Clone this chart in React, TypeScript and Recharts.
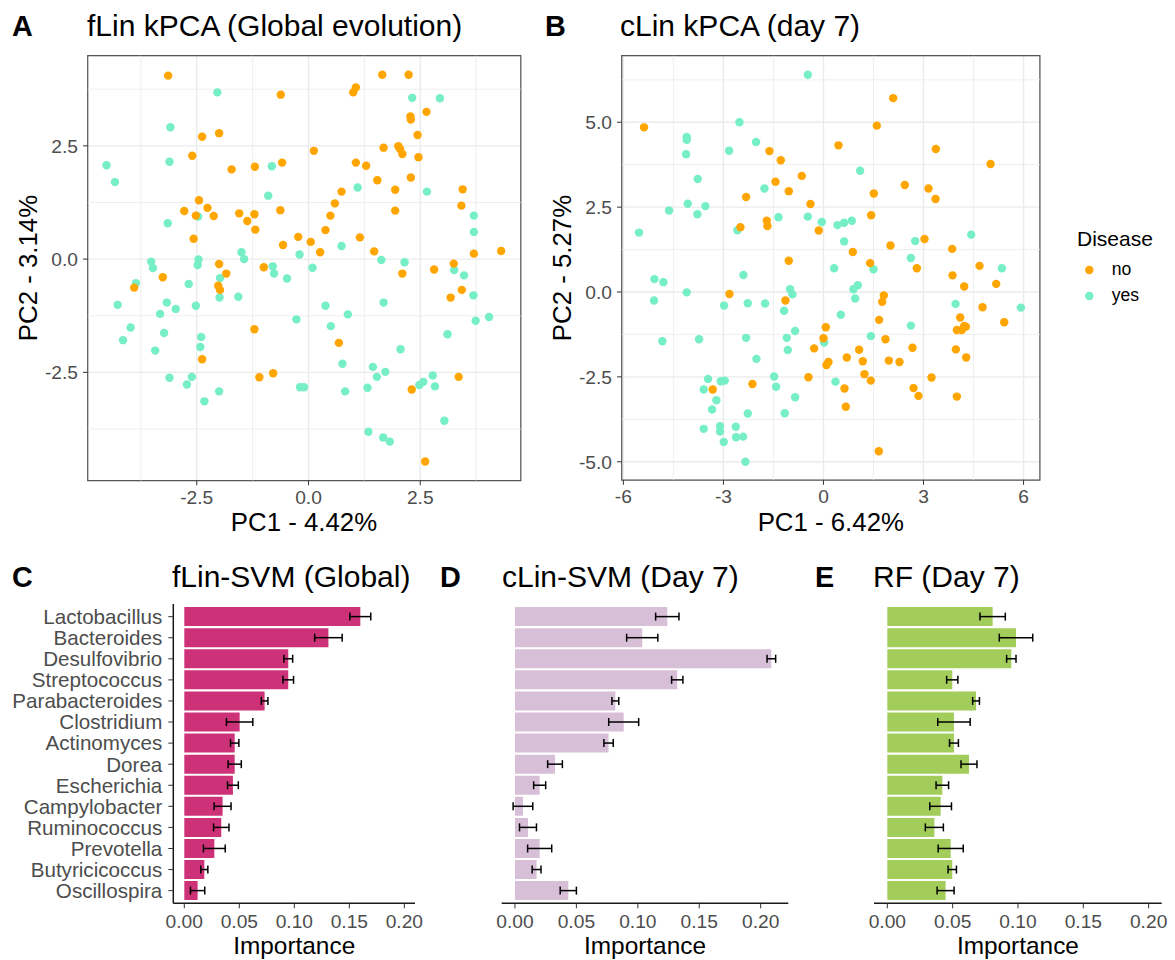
import React from "react";
import {
  ScatterChart,
  Scatter,
  XAxis,
  YAxis,
  CartesianGrid,
  ReferenceLine,
  ReferenceArea,
  BarChart,
  Bar,
  ErrorBar,
} from "recharts";

const FONT = '"Liberation Sans", Arial, Helvetica, sans-serif';
const NO_COLOR = "#FFA500";
const YES_COLOR = "#76EEC6";
const TICK_TEXT = "#4d4d4d";

type Pt = [number, number];

// fLin kPCA (global evolution) scores: [PC1, PC2]
const flinNo: Pt[] = [
  [-3.14, 4.05], [-0.62, 3.63], [-2.38, 2.7], [-2.0, 2.78], [-2.6, 2.28], [-1.72, 1.98],
  [-1.2, 2.04], [-0.59, 2.13], [-2.45, 1.3], [-2.26, 1.13], [-2.78, 1.06], [-2.52, 0.96],
  [-2.12, 0.95], [-1.55, 1.01], [-1.21, 0.99], [-1.37, 0.84], [-1.19, 0.65], [-0.63, 1.08],
  [-2.57, 0.45], [-0.23, 0.49], [-0.57, 0.31], [-2.0, -0.11], [-1.0, -0.18], [-3.26, -0.4],
  [-3.9, -0.63], [-1.84, -0.32], [-2.02, -0.59], [-1.98, -0.68], [-2.38, -2.21], [-1.21, -1.55],
  [-1.1, -2.61], [-0.79, -2.52], [2.1, -0.32], [2.81, -0.23], [3.25, -0.1], [3.43, -0.68],
  [3.18, -0.85], [0.68, -1.85], [2.31, -2.88], [3.36, -2.6], [2.61, -4.47], [1.65, 4.07],
  [2.24, 4.07], [1.06, 3.79], [1.0, 3.68], [2.64, 3.25], [2.28, 3.15], [2.29, 3.08],
  [2.44, 2.74], [0.12, 2.39], [1.68, 2.46], [2.01, 2.49], [2.05, 2.43], [2.1, 2.32],
  [2.46, 2.25], [1.06, 2.13], [1.29, 2.06], [1.54, 1.74], [2.29, 1.8], [1.94, 1.53],
  [3.45, 1.54], [0.74, 1.49], [0.59, 1.23], [0.49, 0.96], [3.42, 1.18], [1.94, 1.07],
  [0.38, 0.64], [0.05, 0.38], [1.15, 0.48], [0.26, 0.15], [1.47, 0.17], [3.7, 0.12],
  [4.31, 0.18],
];

const flinYes: Pt[] = [
  [-2.04, 3.68], [-3.09, 2.91], [-4.52, 2.07], [-3.11, 2.15], [-4.33, 1.7], [-0.82, 2.05],
  [-0.9, 1.4], [-2.47, 0.94], [-3.15, 0.79], [-0.2, 0.1], [-1.5, 0.15], [-1.44, 0.0],
  [-3.52, -0.06], [-2.46, -0.01], [-2.48, -0.13], [-0.8, -0.16], [-3.48, -0.2], [-0.77, -0.32],
  [-3.86, -0.53], [-2.68, -0.55], [-1.98, -0.42], [-1.99, -0.85], [-1.57, -0.83], [-0.48, -0.43],
  [-4.27, -1.01], [-3.17, -0.96], [-3.32, -1.21], [-2.97, -1.1], [-2.52, -1.03], [-3.98, -1.51],
  [-4.15, -1.79], [-3.23, -1.63], [-2.4, -1.72], [-2.42, -1.94], [-3.43, -2.02], [-0.27, -1.33],
  [-3.11, -2.62], [-2.61, -2.6], [-2.72, -2.77], [-2.0, -2.92], [-2.33, -3.14], [-0.19, -2.83],
  [-0.1, -2.83], [0.09, -0.19], [1.63, -0.02], [2.15, -0.07], [3.26, -0.24], [3.48, -0.36],
  [3.69, -0.8], [0.38, -1.03], [0.88, -1.22], [0.5, -1.48], [1.68, -0.96], [3.74, -1.36],
  [4.04, -1.28], [3.11, -1.66], [2.06, -1.99], [0.76, -2.31], [1.44, -2.38], [1.72, -2.49],
  [1.53, -2.6], [0.82, -2.92], [1.32, -2.84], [2.48, -2.78], [2.57, -2.71], [2.78, -2.57],
  [2.83, -2.81], [3.04, -3.57], [1.34, -3.81], [1.67, -3.94], [1.82, -4.03], [2.32, 3.56],
  [2.94, 3.55], [1.1, 1.58], [2.65, 1.49], [3.7, 0.96], [3.7, 0.6], [0.74, 0.29],
];

// cLin kPCA (day 7) scores: [PC1, PC2]
const clinNo: Pt[] = [
  [-5.38, 4.85], [-1.62, 4.15], [-1.28, 3.88], [-0.65, 3.42], [-1.44, 3.25], [-1.04, 2.97],
  [-2.32, 2.8], [-0.39, 2.59], [-2.49, 1.91], [-1.7, 2.1], [-1.68, 1.94], [-0.14, 1.81],
  [-1.04, 0.92], [2.09, 5.71], [1.6, 4.9], [0.45, 4.32], [3.37, 4.21], [5.01, 3.77],
  [2.44, 3.15], [3.15, 3.05], [3.36, 2.74], [1.51, 2.9], [1.43, 2.26], [0.88, 1.18],
  [2.01, 1.37], [3.03, 1.56], [3.86, 1.27], [1.4, 0.85], [2.8, 0.7], [4.68, 0.77],
  [3.87, 0.49], [4.22, 0.16], [5.18, 0.24], [1.81, -0.1], [1.76, -0.29], [4.77, -0.45],
  [1.67, -0.82], [4.1, -0.75], [4.22, -1.0], [4.27, -1.02], [4.0, -1.12], [4.15, -1.12],
  [5.42, -0.89], [0.07, -1.04], [0.0, -1.36], [1.86, -1.39], [2.67, -1.64], [3.97, -1.69],
  [4.28, -1.93], [1.07, -1.7], [0.7, -1.93], [1.18, -2.04], [1.96, -2.02], [2.28, -2.06],
  [0.15, -2.06], [0.09, -2.15], [1.23, -2.42], [1.42, -2.61], [3.24, -2.52], [0.63, -2.84],
  [2.7, -2.83], [2.85, -3.06], [4.0, -3.08], [0.67, -3.38], [1.66, -4.69], [-2.82, -0.06],
  [-1.14, -0.25], [-0.28, -1.66], [-0.45, -2.51], [-2.13, -2.71], [-3.32, -2.87],
];

const clinYes: Pt[] = [
  [-0.47, 6.4], [-2.52, 5.0], [-4.1, 4.57], [-4.1, 4.48], [-4.12, 4.06], [-2.83, 4.16],
  [-2.02, 4.42], [-3.77, 3.33], [-1.77, 3.05], [-4.63, 2.4], [-4.07, 2.6], [-3.54, 2.53],
  [-3.78, 2.29], [-5.53, 1.75], [-2.58, 1.82], [-1.35, 2.2], [-0.47, 2.22], [-0.05, 2.06],
  [1.1, 3.57], [0.42, 1.97], [0.62, 2.04], [0.85, 2.1], [0.62, 1.49], [2.75, 1.5],
  [4.43, 1.69], [2.62, 1.0], [0.32, 0.7], [1.5, 0.67], [5.35, 0.7], [1.03, 0.2],
  [0.9, 0.08], [0.95, -0.19], [3.96, -0.35], [5.92, -0.46], [0.52, -0.67], [2.62, -0.99],
  [0.02, -1.49], [1.42, -1.3], [0.36, -2.64], [-2.4, 0.5], [-5.07, 0.38], [-4.8, 0.29],
  [-5.08, -0.25], [-4.1, -0.01], [-2.98, -0.4], [-2.27, -0.33], [-1.75, -0.34], [-1.0, 0.08],
  [-0.93, -0.07], [-1.18, -0.55], [-4.83, -1.45], [-3.73, -1.39], [-2.32, -1.35], [-0.85, -1.15],
  [-1.1, -1.35], [-1.07, -1.71], [-2.01, -1.97], [-1.48, -2.49], [-1.42, -2.79], [-0.85, -3.1],
  [-3.46, -2.56], [-3.08, -2.63], [-2.96, -2.61], [-3.59, -2.87], [-3.21, -3.19], [-3.34, -3.46],
  [-2.27, -3.58], [-1.16, -3.57], [-3.59, -4.03], [-3.1, -3.95], [-3.1, -4.11], [-2.99, -4.42],
  [-2.63, -3.97], [-2.62, -4.28], [-2.41, -4.26], [-2.34, -5.0],
];

// Feature importance per genus
const genera = [
  "Lactobacillus", "Bacteroides", "Desulfovibrio", "Streptococcus", "Parabacteroides",
  "Clostridium", "Actinomyces", "Dorea", "Escherichia", "Campylobacter", "Ruminococcus",
  "Prevotella", "Butyricicoccus", "Oscillospira",
];
const flinSvmImportance = [
  0.16, 0.131, 0.0945, 0.0945, 0.073, 0.0503, 0.0458, 0.0458, 0.0442, 0.0348, 0.0336, 0.0273,
  0.0182, 0.0121,
];
const flinSvmError = [
  0.0095, 0.0125, 0.004, 0.0048, 0.003, 0.012, 0.0038, 0.006, 0.0049, 0.0077, 0.007, 0.0099,
  0.0032, 0.0065,
];
const clinSvmImportance = [
  0.124, 0.1036, 0.2087, 0.1321, 0.0817, 0.0885, 0.0762, 0.0326, 0.0201, 0.0065, 0.0106, 0.0201,
  0.0176, 0.0434,
];
const clinSvmError = [
  0.0095, 0.0127, 0.0035, 0.0046, 0.0028, 0.0122, 0.0038, 0.006, 0.0049, 0.008, 0.0069, 0.0098,
  0.0036, 0.0066,
];
const rfImportance = [
  0.0806, 0.0985, 0.0949, 0.0497, 0.0679, 0.051, 0.051, 0.0625, 0.0421, 0.0408, 0.036, 0.0485,
  0.0497, 0.0446,
];
const rfError = [
  0.0097, 0.0128, 0.0036, 0.0043, 0.0026, 0.0124, 0.0034, 0.0061, 0.0048, 0.0083, 0.0069, 0.0096,
  0.0032, 0.0065,
];
const importanceTicks = [0, 0.05, 0.1, 0.15, 0.2];

const tickText = { fill: TICK_TEXT, fontSize: 19.2, fontFamily: FONT };
const nameText = { fill: TICK_TEXT, fontSize: 20.6, fontFamily: FONT };

const toRows = (pts: Pt[]) => pts.map(([pc1, pc2]) => ({ pc1, pc2 }));

const dotShape = (color: string) => (props: any) => (
  <circle cx={props.cx} cy={props.cy} r={4.2} fill={color} />
);

interface Margin {
  top: number;
  right: number;
  bottom: number;
  left: number;
}

interface ScatterPanelProps {
  no: Pt[];
  yes: Pt[];
  xDomain: [number, number];
  yDomain: [number, number];
  xTicks: number[];
  yTicks: number[];
  xMinor: number[];
  yMinor: number[];
  xDigits: number;
  yDigits: number;
  width: number;
  height: number;
  margin: Margin;
  yAxisWidth: number;
}

function ScatterPanel(p: ScatterPanelProps) {
  return (
    <ScatterChart width={p.width} height={p.height} margin={p.margin}>
      <CartesianGrid stroke="#ebebeb" strokeWidth={1.4} />
      {p.xMinor.map((v) => (
        <ReferenceLine key={"xm" + v} x={v} stroke="#ebebeb" strokeWidth={0.8} />
      ))}
      {p.yMinor.map((v) => (
        <ReferenceLine key={"ym" + v} y={v} stroke="#ebebeb" strokeWidth={0.8} />
      ))}
      <XAxis
        type="number"
        dataKey="pc1"
        domain={p.xDomain}
        allowDataOverflow
        ticks={p.xTicks}
        interval={0}
        tickFormatter={(v: number) => v.toFixed(p.xDigits)}
        tick={tickText}
        tickLine={{ stroke: "#333333", strokeWidth: 1 }}
        tickSize={4.7}
        tickMargin={5}
        axisLine={false}
        height={40}
      />
      <YAxis
        type="number"
        dataKey="pc2"
        domain={p.yDomain}
        allowDataOverflow
        ticks={p.yTicks}
        interval={0}
        tickFormatter={(v: number) => v.toFixed(p.yDigits)}
        tick={tickText}
        tickLine={{ stroke: "#333333", strokeWidth: 1 }}
        tickSize={4.7}
        tickMargin={5}
        axisLine={false}
        width={p.yAxisWidth}
      />
      <Scatter
        name="yes"
        data={toRows(p.yes)}
        fill={YES_COLOR}
        shape={dotShape(YES_COLOR)}
        isAnimationActive={false}
      />
      <Scatter
        name="no"
        data={toRows(p.no)}
        fill={NO_COLOR}
        shape={dotShape(NO_COLOR)}
        isAnimationActive={false}
      />
      <ReferenceArea
        x1={p.xDomain[0]}
        x2={p.xDomain[1]}
        y1={p.yDomain[0]}
        y2={p.yDomain[1]}
        fill="none"
        stroke="#555555"
        strokeWidth={1.2}
      />
    </ScatterChart>
  );
}

interface ImportancePanelProps {
  values: number[];
  errors: number[];
  color: string;
  showNames: boolean;
  width: number;
  height: number;
  margin: Margin;
  xDomain: [number, number];
}

const ranks = genera.map((_, i) => i + 1);

function ImportancePanel(p: ImportancePanelProps) {
  const rows = genera.map((genus, i) => ({
    genus,
    rank: i + 1,
    importance: p.values[i],
    err: p.errors[i],
  }));
  return (
    <BarChart layout="vertical" width={p.width} height={p.height} data={rows} margin={p.margin}>
      <XAxis
        type="number"
        domain={p.xDomain}
        allowDataOverflow
        ticks={importanceTicks}
        interval={0}
        tickFormatter={(v: number) => v.toFixed(2)}
        tick={tickText}
        tickLine={{ stroke: "#333333", strokeWidth: 1 }}
        tickSize={5}
        tickMargin={6.5}
        axisLine={{ stroke: "#1a1a1a", strokeWidth: 1.5 }}
        height={35}
      />
      <YAxis
        type="number"
        dataKey="rank"
        domain={[0.4, 14.6]}
        allowDataOverflow
        ticks={ranks}
        interval={0}
        tickFormatter={(r: number) => genera[r - 1]}
        tick={p.showNames ? nameText : false}
        tickLine={p.showNames ? { stroke: "#333333", strokeWidth: 1 } : false}
        tickSize={5}
        tickMargin={6}
        axisLine={{ stroke: "#1a1a1a", strokeWidth: 1.5 }}
        width={p.showNames ? 160 : 0}
      />
      <Bar dataKey="importance" fill={p.color} barSize={19} isAnimationActive={false}>
        <ErrorBar dataKey="err" direction="x" width={4} stroke="#000000" strokeWidth={1.5} />
      </Bar>
    </BarChart>
  );
}

const abs = (left: number, top: number): React.CSSProperties => ({
  position: "absolute",
  left,
  top,
});

const TITLE_SIZE = 30;

const titleStyle = (left: number, top: number, bold = false): React.CSSProperties => ({
  ...abs(left, top),
  fontSize: bold ? 28.8 : TITLE_SIZE,
  lineHeight: 1,
  fontWeight: bold ? 700 : 400,
  whiteSpace: "nowrap",
  color: "#000",
});

const centeredText = (cx: number, top: number, size: number): React.CSSProperties => ({
  ...abs(cx, top),
  transform: "translateX(-50%)",
  fontSize: size,
  lineHeight: 1,
  whiteSpace: "nowrap",
  color: "#000",
});

const rotatedText = (cx: number, cy: number, size: number): React.CSSProperties => ({
  ...abs(cx, cy),
  transform: "translate(-50%, -50%) rotate(-90deg)",
  fontSize: size,
  lineHeight: 1,
  whiteSpace: "nowrap",
  color: "#000",
});

export default function App() {
  return (
    <div
      style={{
        position: "absolute",
        left: 0,
        top: 0,
        width: 1175,
        height: 960,
        background: "#ffffff",
        fontFamily: FONT,
        overflow: "hidden",
      }}
    >
      {/* Panel A */}
      <div style={titleStyle(12, 11.6, true)}>A</div>
      <div style={titleStyle(87, 10.6)}>fLin kPCA (Global evolution)</div>
      <div style={abs(0, 0)}>
        <ScatterPanel
          no={flinNo}
          yes={flinYes}
          xDomain={[-4.94, 4.75]}
          yDomain={[-4.89, 4.49]}
          xTicks={[-2.5, 0, 2.5]}
          yTicks={[-2.5, 0, 2.5]}
          xMinor={[-3.75, -1.25, 1.25, 3.75]}
          yMinor={[-3.75, -1.25, 1.25, 3.75]}
          xDigits={1}
          yDigits={1}
          width={540}
          height={540}
          margin={{ top: 55.7, right: 19.2, bottom: 19.4, left: 7.7 }}
          yAxisWidth={80}
        />
      </div>
      <div style={centeredText(304, 510, 25.8)}>PC1 - 4.42%</div>
      <div style={rotatedText(29, 268, 25.8)}>PC2 - 3.14%</div>

      {/* Panel B */}
      <div style={titleStyle(545, 11.6, true)}>B</div>
      <div style={titleStyle(620, 10.6)}>cLin kPCA (day 7)</div>
      <div style={abs(540, 0)}>
        <ScatterPanel
          no={clinNo}
          yes={clinYes}
          xDomain={[-6.05, 6.49]}
          yDomain={[-5.54, 6.96]}
          xTicks={[-6, -3, 0, 3, 6]}
          yTicks={[-5, -2.5, 0, 2.5, 5]}
          xMinor={[-4.5, -1.5, 1.5, 4.5]}
          yMinor={[-3.75, -1.25, 1.25, 3.75, 6.25]}
          xDigits={0}
          yDigits={1}
          width={520}
          height={540}
          margin={{ top: 55.7, right: 20.1, bottom: 19.9, left: 11.7 }}
          yAxisWidth={70}
        />
      </div>
      <div style={centeredText(830.8, 510, 25.8)}>PC1 - 6.42%</div>
      <div style={rotatedText(563, 268, 25.8)}>PC2 - 5.27%</div>

      {/* Disease legend */}
      <svg style={abs(1060, 220)} width={110} height={100}>
        <text x={17} y={26} fontSize={21} fontFamily={FONT} fill="#000">
          Disease
        </text>
        <circle cx={29.3} cy={50} r={4.2} fill={NO_COLOR} />
        <text x={51.7} y={54.6} fontSize={17.6} fontFamily={FONT} fill="#000">
          no
        </text>
        <circle cx={29.3} cy={76} r={4.2} fill={YES_COLOR} />
        <text x={51.7} y={80.6} fontSize={17.6} fontFamily={FONT} fill="#000">
          yes
        </text>
      </svg>

      {/* Panel C */}
      <div style={titleStyle(12, 562.6, true)}>C</div>
      <div style={titleStyle(172, 561.6)}>fLin-SVM (Global)</div>
      <div style={abs(0, 560)}>
        <ImportancePanel
          values={flinSvmImportance}
          errors={flinSvmError}
          color="#CD3278"
          showNames
          width={440}
          height={400}
          margin={{ top: 44, right: 25, bottom: 21.7, left: 13.3 }}
          xDomain={[-0.01, 0.2097]}
        />
      </div>
      <div style={centeredText(294.2, 933.5, 24.4)}>Importance</div>

      {/* Panel D */}
      <div style={titleStyle(440, 562.6, true)}>D</div>
      <div style={titleStyle(502, 561.6)}>cLin-SVM (Day 7)</div>
      <div style={abs(440, 560)}>
        <ImportancePanel
          values={clinSvmImportance}
          errors={clinSvmError}
          color="#D8BFD8"
          showNames={false}
          width={370}
          height={400}
          margin={{ top: 44, right: 21.7, bottom: 21.7, left: 61.7 }}
          xDomain={[-0.0108, 0.2225]}
        />
      </div>
      <div style={centeredText(645, 933.5, 24.4)}>Importance</div>

      {/* Panel E */}
      <div style={titleStyle(815, 562.6, true)}>E</div>
      <div style={titleStyle(873, 561.6)}>RF (Day 7)</div>
      <div style={abs(810, 560)}>
        <ImportancePanel
          values={rfImportance}
          errors={rfError}
          color="#A2CD5A"
          showNames={false}
          width={365}
          height={400}
          margin={{ top: 44, right: 13.3, bottom: 21.7, left: 64 }}
          xDomain={[-0.0102, 0.21]}
        />
      </div>
      <div style={centeredText(1017.9, 933.5, 24.4)}>Importance</div>
    </div>
  );
}
